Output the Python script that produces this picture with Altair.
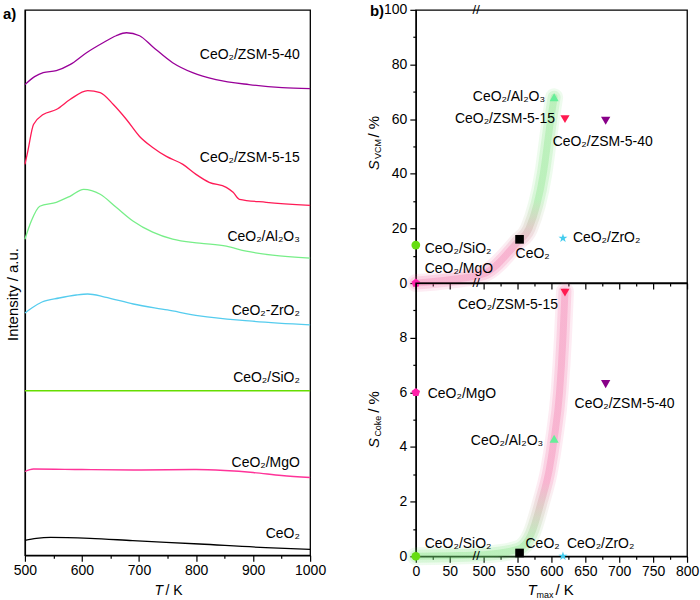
import altair as alt
import pandas as pd

FONT = "Liberation Sans"

# ---------------- panel a) : profiles (intensity in a.u.) ----------------
zsm40_T = [500, 517, 532, 555, 579, 608, 637, 660, 678, 701, 724, 759, 794, 835, 893, 951, 1000]
zsm40_I = [472, 480, 484, 486, 492, 504, 514, 521, 524, 521, 510, 494, 484, 477, 472, 469, 468]
zsm15_T = [500, 505, 515, 532, 555, 579, 610, 632, 655, 678, 701, 724, 748, 777, 800, 823, 853, 865, 876, 923, 1000]
zsm15_I = [392, 405, 432, 442, 447, 457, 466, 464, 452, 437, 420, 409, 400, 392, 382, 374, 369, 364, 357, 354, 351]
al_T = [500, 511, 526, 555, 579, 603, 632, 660, 690, 724, 759, 806, 853, 888, 934, 1000]
al_I = [317, 335, 350, 354, 360, 367, 362, 349, 335, 324, 317, 313, 310, 305, 301, 298]
zr_T = [500, 512, 530, 560, 590, 610, 640, 690, 750, 806, 893, 1000]
zr_I = [243, 248, 254, 258, 261, 262, 259, 252, 246, 240, 235, 231]
si_T = [500, 1000]
si_I = [165, 165]
mg_T = [500, 515, 600, 700, 800, 850, 900, 950, 1000]
mg_I = [84, 86.5, 86, 85.5, 86, 85, 83, 80, 78]
ce_T = [500, 520, 545, 614, 689, 806, 922, 1000]
ce_I = [15, 17, 18, 17, 14.7, 11.3, 7.7, 6]

series_names = ["ZSM-5-40", "ZSM-5-15", "Al2O3", "ZrO2", "SiO2", "MgO", "CeO2"]
series_T = [zsm40_T, zsm15_T, al_T, zr_T, si_T, mg_T, ce_T]
series_I = [zsm40_I, zsm15_I, al_I, zr_I, si_I, mg_I, ce_I]
line_colors = ["#990099", "#ff1a55", "#77ee88", "#55ccee", "#66dd00", "#ff3399", "#000000"]

left_label_text = ["CeO₂/ZSM-5-40", "CeO₂/ZSM-5-15", "CeO₂/Al₂O₃", "CeO₂-ZrO₂", "CeO₂/SiO₂", "CeO₂/MgO", "CeO₂"]
left_label_I = [502, 398, 319, 245, 178, 93, 21]
left_label_T = [982, 982, 982, 982, 982, 982, 982]

# ---------------- panel b) : selectivities vs Tmax ----------------
materials = ["CeO2", "CeO2/SiO2", "CeO2/MgO", "CeO2/Al2O3", "CeO2/ZSM-5-15", "CeO2/ZSM-5-40", "CeO2/ZrO2"]
mat_labels = ["CeO₂", "CeO₂/SiO₂", "CeO₂/MgO", "CeO₂/Al₂O₃", "CeO₂/ZSM-5-15", "CeO₂/ZSM-5-40", "CeO₂/ZrO₂"]
t_max = [553, 0, 0, 604, 620, 680, 617]
s_vcm = [16.0, 13.9, 0.0, 68.0, 60.0, 59.4, 16.4]
s_coke = [0.12, 0.0, 6.0, 4.3, 9.65, 6.3, 0.0]

band_top_T = [0, 50, 500, 550, 567, 588, 599, 604]
band_top_S = [0, 1.2, 3.4, 15, 20, 40, 60, 68]
band_bot_T = [0, 50, 500, 550, 570, 585, 597, 604, 612, 617, 620]
band_bot_S = [0, 0.02, 0.06, 0.25, 0.8, 2, 3.2, 4.3, 6, 8, 9.7]

break_pos = [89]  # axis-break position on the compressed Tmax scale

# ---------------- styles ----------------
PENT = "M0,-1L0.951,-0.309L0.588,0.809L-0.588,0.809L-0.951,-0.309Z"
STAR = ("M0,-1L0.225,-0.309L0.951,-0.309L0.363,0.118L0.588,0.809L0,0.382"
        "L-0.588,0.809L-0.363,0.118L-0.951,-0.309L-0.225,-0.309Z")
marker_colors = ["#000000", "#66dd11", "#ff22aa", "#66ee99", "#ff1a50", "#880088", "#44ccee"]
marker_shapes = ["square", "circle", PENT, "triangle-up", "triangle-down", "triangle-down", STAR]
marker_sizes = [75, 90, 110, 160, 160, 160, 130]
PINK = "#f0609c"
GREEN = "#70e070"

LW, LH = 286, 547
RW, RH = 272, 274

# ---------------- helpers ----------------
def label_txt(text, x, y, size=15, style="normal", weight="normal", angle=0, align="left", baseline="middle"):
    return alt.Chart(pd.DataFrame({"t": [text]})).mark_text(
        fontSize=size, fontStyle=style, fontWeight=weight, angle=angle, align=align,
        baseline=baseline, color="black", font=FONT
    ).encode(text="t:N", x=alt.value(x), y=alt.value(y))


def minor_dash(test_major):
    # major ticks drawn solid, minor ticks only half their length
    return {"condition": {"test": "!(" + test_major + ")", "value": [3, 30]}, "value": [30, 0]}

# ---------------- panel a ----------------
rows = []
for n, Ts, Is in zip(series_names, series_T, series_I):
    for t, i in zip(Ts, Is):
        rows.append({"s": n, "T": t, "I": i})
df_a = pd.DataFrame(rows)
df_al = pd.DataFrame({"txt": left_label_text, "T": left_label_T, "I": left_label_I})

ax_a_x = alt.Axis(values=list(range(500, 1001, 50)),
                  labelExpr="datum.value % 100 === 0 ? '' + datum.value : ''",
                  tickSize=6, tickDash=minor_dash("datum.value % 100 === 0"),
                  title=None, labelFlush=False, labelOverlap=False, labelPadding=2)
ax_a_y = alt.Axis(labels=False, ticks=False, title="Intensity / a.u.", titlePadding=4, titleY=285)
xa = alt.X("T:Q", scale=alt.Scale(domain=[500, 1000], nice=False), axis=ax_a_x)
ya = alt.Y("I:Q", scale=alt.Scale(domain=[0, LH], nice=False), axis=ax_a_y)

lines_a = alt.Chart(df_a).mark_line(interpolate="monotone", strokeWidth=1.3).encode(
    x=xa, y=ya,
    color=alt.Color("s:N", scale=alt.Scale(domain=series_names, range=line_colors), legend=None),
    detail="s:N")
labels_a = alt.Chart(df_al).mark_text(align="right", baseline="middle", fontSize=14, color="black", font=FONT).encode(
    x=xa, y=ya, text="txt:N")

left = alt.layer(
    lines_a, labels_a,
    label_txt("T", 130, LH + 36, size=14, style="italic"),
    label_txt("/ K", 141, LH + 36, size=14),
    label_txt("a)", -22, 4, size=15, weight="bold"),
).properties(width=LW, height=LH)

# ---------------- panel b ----------------
df_b = pd.DataFrame({"mat": materials, "lab": mat_labels, "T": t_max, "svcm": s_vcm, "scoke": s_coke})
df_bt = pd.DataFrame({"T": band_top_T, "v": band_top_S})
df_bb = pd.DataFrame({"T": band_bot_T, "v": band_bot_S})
df_br = pd.DataFrame({"xt": break_pos})
XT = "datum.T <= 100 ? datum.T : datum.T - 400"

xr_scale = alt.Scale(domain=[0, 400], nice=False)
xr_values = [0, 25, 50] + list(range(100, 401, 25))
xr_lab = "datum.value % 50 === 0 ? (datum.value <= 50 ? '' + datum.value : '' + (datum.value + 400)) : ''"


def xr_axis(show):
    return alt.Axis(values=xr_values, labelExpr=xr_lab, labels=show,
                    tickSize=6, tickDash=minor_dash("datum.value % 50 === 0"),
                    title=None, labelFlush=False, labelOverlap=False, labelPadding=2)


def build_panel(col, ydom, yvals, ymajor, show_x, places, stops, breaks):
    xenc = alt.X("xt:Q", scale=xr_scale, axis=xr_axis(show_x))
    test = "datum.value % " + str(ymajor) + " === 0"
    yaxis = alt.Axis(values=yvals, labelExpr=test + " ? '' + datum.value : ''",
                     tickSize=6, tickDash=minor_dash(test), title=None,
                     labelOverlap=False, labelPadding=3)
    yscale = alt.Scale(domain=ydom, nice=False)
    layers = []
    band_df = df_bt if col == "svcm" else df_bb
    grad = alt.LinearGradient(gradient="linear",
                              stops=[alt.GradientStop(offset=o, color=c) for o, c in stops],
                              x1=0, x2=0, y1=1, y2=0)
    for w, op in [(18, 0.12), (13, 0.18), (7, 0.26)]:
        layers.append(alt.Chart(band_df).transform_calculate(xt=XT).mark_line(
            interpolate="monotone", strokeWidth=w, opacity=op, color=grad, strokeCap="round"
        ).encode(x=xenc, y=alt.Y("v:Q", scale=yscale, axis=yaxis)))
    yenc = alt.Y(col + ":Q", scale=yscale, axis=yaxis)
    layers.append(alt.Chart(df_b).transform_calculate(xt=XT).mark_point(filled=True, opacity=1).encode(
        x=xenc, y=yenc,
        color=alt.Color("mat:N", scale=alt.Scale(domain=materials, range=marker_colors), legend=None),
        shape=alt.Shape("mat:N", scale=alt.Scale(domain=materials, range=marker_shapes), legend=None),
        size=alt.Size("mat:N", scale=alt.Scale(domain=materials, range=marker_sizes), legend=None)))
    for m, al, dx, dy in places:
        layers.append(alt.Chart(df_b).transform_calculate(xt=XT).transform_filter(
            alt.FieldEqualPredicate(field="mat", equal=m)).mark_text(
            align=al, baseline="middle", dx=dx, dy=dy, fontSize=14, color="black", font=FONT
        ).encode(x=xenc, y=yenc, text="lab:N"))
    for yb in breaks:
        layers.append(alt.Chart(df_br).mark_text(
            text="//", fontSize=13, baseline="middle", color="black", font=FONT
        ).encode(x=xenc, y=alt.value(yb)))
    return layers


top_places = [("CeO2/Al2O3", "right", -9, 0), ("CeO2/ZSM-5-15", "right", -10, 0),
              ("CeO2/ZSM-5-40", "center", -3, 21), ("CeO2/ZrO2", "left", 10, 0),
              ("CeO2", "left", -4, 15), ("CeO2/SiO2", "left", 9, 4), ("CeO2/MgO", "left", 9, -14)]
bot_places = [("CeO2/ZSM-5-15", "right", -7, 12), ("CeO2/MgO", "left", 12, 2),
              ("CeO2/ZSM-5-40", "center", 19, 20), ("CeO2/Al2O3", "right", -11, 2),
              ("CeO2/SiO2", "left", 9, -12), ("CeO2", "left", 6, -9), ("CeO2/ZrO2", "left", 4, -12)]

top_layers = build_panel("svcm", [0, 100], list(range(0, 101, 10)), 20, False, top_places,
                         [(0, PINK), (0.18, PINK), (0.45, GREEN), (1, GREEN)], [0, RH])
top_layers += [
    label_txt("S", -42, 161, size=15, style="italic", angle=270),
    label_txt("VCM", -37.5, 149.5, size=9, angle=270),
    label_txt("/ %", -42, 128, size=15, angle=270),
    label_txt("b)", -46, 1, size=15, weight="bold"),
]
top = alt.layer(*top_layers).properties(width=RW, height=RH)

bot_layers = build_panel("scoke", [0, 10], list(range(0, 10)), 2, True, bot_places,
                         [(0, GREEN), (0.05, GREEN), (0.28, PINK), (1, PINK)], [RH])
bot_layers += [
    label_txt("S", -42, 165.5, size=15, style="italic", angle=270),
    label_txt("Coke", -37.5, 154, size=9, angle=270),
    label_txt("/ %", -42, 130, size=15, angle=270),
    label_txt("T", 112, RH + 34, size=15, style="italic"),
    label_txt("max", 121, RH + 39, size=9),
    label_txt("/ K", 140, RH + 34, size=15),
]
bot = alt.layer(*bot_layers).properties(width=RW, height=RH)

right = alt.vconcat(top, bot, spacing=0, bounds="flush").resolve_scale(
    color="shared", shape="shared", size="shared")

chart = alt.hconcat(left, right, spacing=39).resolve_scale(
    color="independent", shape="independent", size="independent"
).properties(
    padding={"left": 2, "top": 1, "right": 0, "bottom": 0}
).configure_view(
    stroke="black", strokeWidth=1.3
).configure_axis(
    domainColor="black", domainWidth=1.3, tickColor="black", tickWidth=1.2,
    labelFont=FONT, labelFontSize=14, labelColor="black",
    titleFont=FONT, titleFontSize=15, titleColor="black", titleFontWeight="normal", grid=False
).configure_text(font=FONT)

chart.save("out.html", embed_options={"renderer": "svg", "actions": False})
